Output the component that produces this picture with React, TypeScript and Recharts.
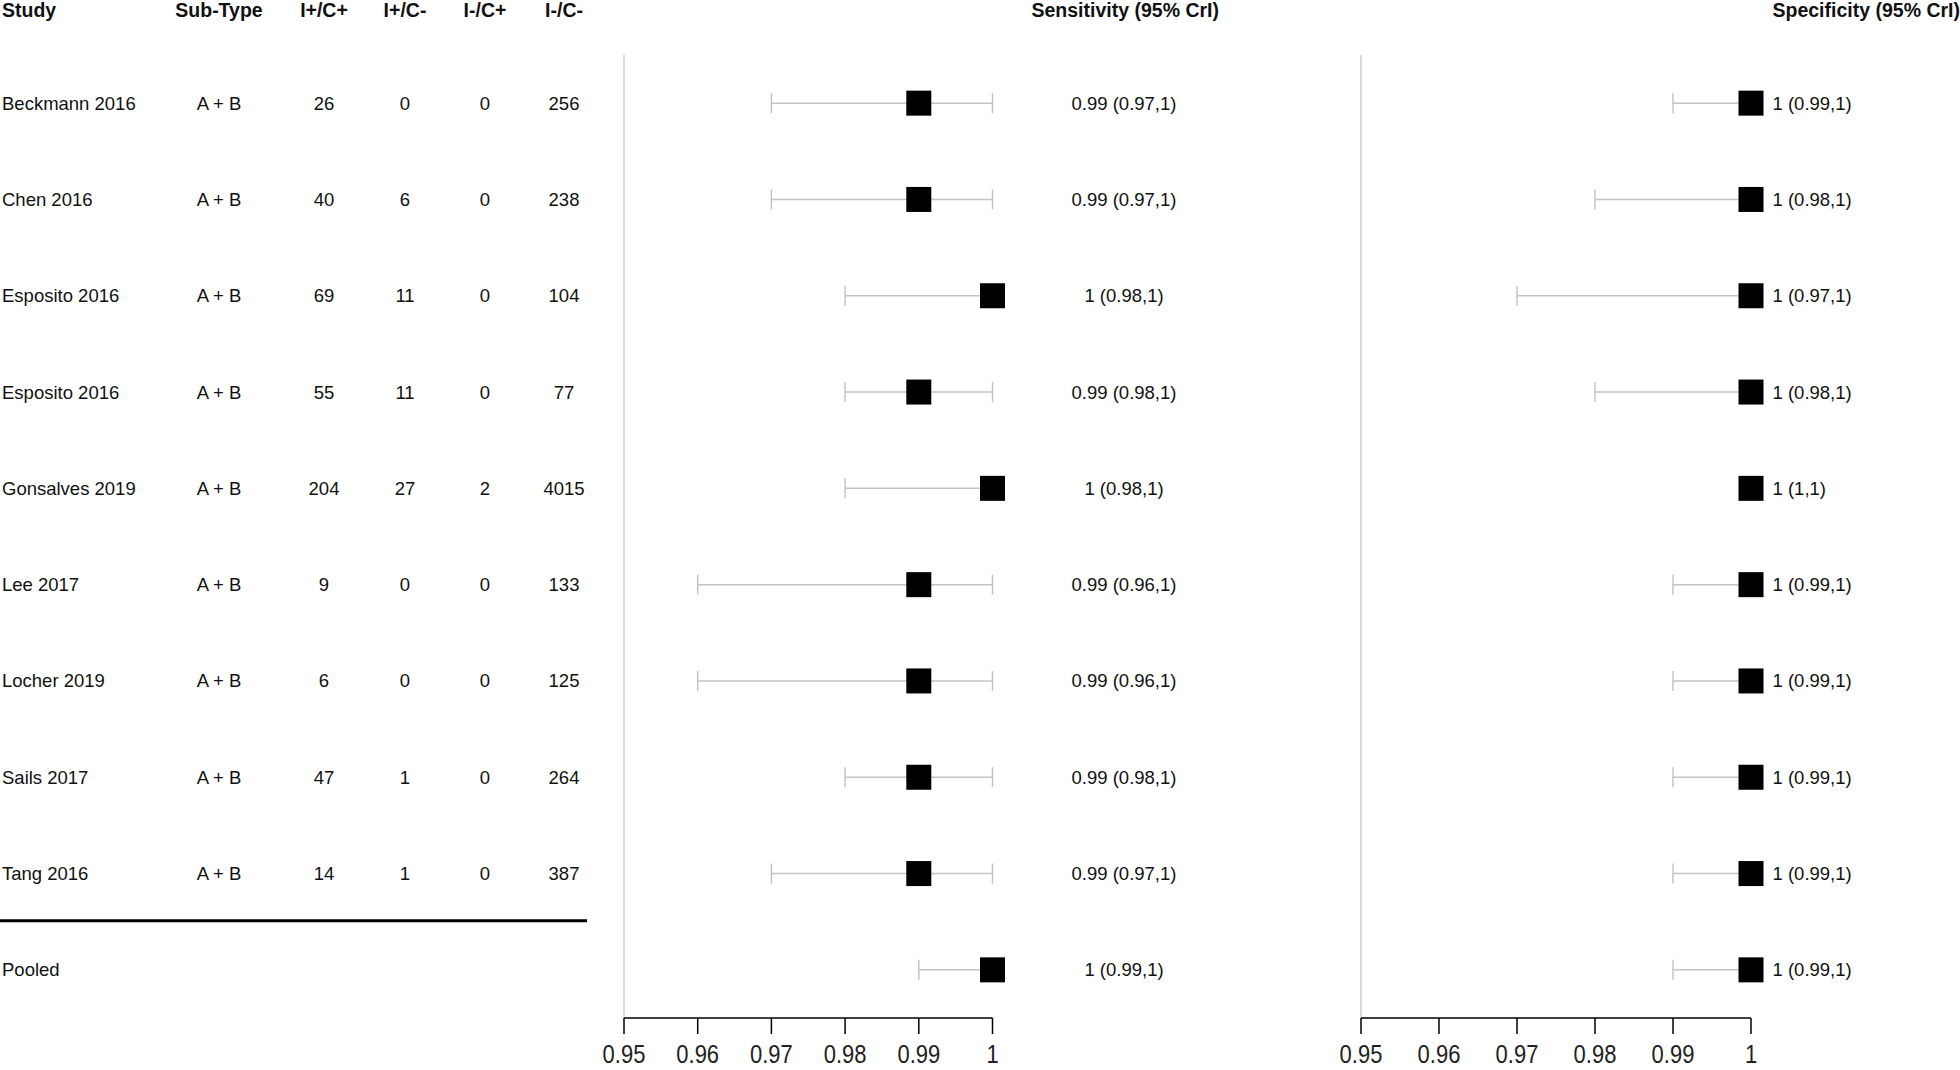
import React from 'react';
import { ScatterChart, Scatter, XAxis, YAxis, ErrorBar, ReferenceLine } from 'recharts';

// ---------- data ----------
const studies = [
  'Beckmann 2016', 'Chen 2016', 'Esposito 2016', 'Esposito 2016', 'Gonsalves 2019',
  'Lee 2017', 'Locher 2019', 'Sails 2017', 'Tang 2016', 'Pooled',
];
const subTypes = ['A + B', 'A + B', 'A + B', 'A + B', 'A + B', 'A + B', 'A + B', 'A + B', 'A + B', ''];
const ipcp = ['26', '40', '69', '55', '204', '9', '6', '47', '14', ''];
const ipcm = ['0', '6', '11', '11', '27', '0', '0', '1', '1', ''];
const imcp = ['0', '0', '0', '0', '2', '0', '0', '0', '0', ''];
const imcm = ['256', '238', '104', '77', '4015', '133', '125', '264', '387', ''];

const sensEst = [0.99, 0.99, 1, 0.99, 1, 0.99, 0.99, 0.99, 0.99, 1];
const sensLow = [0.97, 0.97, 0.98, 0.98, 0.98, 0.96, 0.96, 0.98, 0.97, 0.99];
const sensHigh = [1, 1, 1, 1, 1, 1, 1, 1, 1, 1];

const specEst = [1, 1, 1, 1, 1, 1, 1, 1, 1, 1];
const specLow = [0.99, 0.98, 0.97, 0.98, 1, 0.99, 0.99, 0.99, 0.99, 0.99];
const specHigh = [1, 1, 1, 1, 1, 1, 1, 1, 1, 1];

const headers = ['Study', 'Sub-Type', 'I+/C+', 'I+/C-', 'I-/C+', 'I-/C-'];
const sensTitle = 'Sensitivity (95% CrI)';
const specTitle = 'Specificity (95% CrI)';
const xTicks = [0.95, 0.96, 0.97, 0.98, 0.99, 1];
const rowTicks = studies.map((_, i) => i);

const rows = studies.map((s, i) => ({
  row: i,
  sens: sensEst[i],
  sensErr: [sensEst[i] - sensLow[i], sensHigh[i] - sensEst[i]],
  spec: specEst[i],
  specErr: [specEst[i] - specLow[i], specHigh[i] - specEst[i]],
}));

const fmt = (e: number, l: number, h: number) => `${e} (${l},${h})`;

// ---------- layout ----------
const FONT = '"Liberation Sans", Arial, sans-serif';
const FS = 18.5;
const HFS = 19.5;
const TXT = '#111';
const HEAD_Y = 10;
const colX = [2, 219, 324, 405, 485, 564];
const SENS_TXT_X = 1124;
const SENS_HEAD_END = 1219;
const SPEC_TXT_X = 532.5;
const CHART_H = 1070;
const TOP = 55;
const AXIS_H = 52;
const A_W = 1240;
const B_W = 720;

function LeftTick(props: any) {
  const { y, payload } = props;
  const i = payload.value as number;
  const cells = [subTypes[i], ipcp[i], ipcm[i], imcp[i], imcm[i]];
  return (
    <g fontFamily={FONT} fontSize={FS} fill={TXT}>
      {i === 0 && (
        <g fontWeight="bold" fontSize={HFS}>
          <text x={colX[0]} y={HEAD_Y} dy="0.35em" textAnchor="start">{headers[0]}</text>
          {headers.slice(1).map((h, k) => (
            <text key={k} x={colX[k + 1]} y={HEAD_Y} dy="0.35em" textAnchor="middle">{h}</text>
          ))}
          <text x={SENS_HEAD_END} y={HEAD_Y} dy="0.35em" textAnchor="end">{sensTitle}</text>
        </g>
      )}
      <text x={colX[0]} y={y} dy="0.35em" textAnchor="start">{studies[i]}</text>
      {cells.map((c, k) => (
        <text key={k} x={colX[k + 1]} y={y} dy="0.35em" textAnchor="middle">{c}</text>
      ))}
      <text x={SENS_TXT_X} y={y} dy="0.35em" textAnchor="middle">
        {fmt(sensEst[i], sensLow[i], sensHigh[i])}
      </text>
      {i === studies.length - 1 && (
        <line x1={0} x2={587} y1={y - 49} y2={y - 49} stroke="#000" strokeWidth={3} />
      )}
    </g>
  );
}

function RightTick(props: any) {
  const { y, payload } = props;
  const i = payload.value as number;
  return (
    <g fontFamily={FONT} fontSize={FS} fill={TXT}>
      {i === 0 && (
        <text x={SPEC_TXT_X} y={HEAD_Y} dy="0.35em" textAnchor="start" fontWeight="bold" fontSize={HFS}>
          {specTitle}
        </text>
      )}
      <text x={SPEC_TXT_X} y={y} dy="0.35em" textAnchor="start">
        {fmt(specEst[i], specLow[i], specHigh[i])}
      </text>
    </g>
  );
}

function XTick(props: any) {
  const { x, y, payload } = props;
  return (
    <g transform={`translate(${x},${y}) scale(1,1.18)`}>
      <text x={0} y={0} dy="0.71em" textAnchor="middle" fontSize={22} fill="#222" fontFamily={FONT}>
        {String(payload.value)}
      </text>
    </g>
  );
}

const Square = (p: any) => (
  <rect x={p.cx - 12.5} y={p.cy - 12.5} width={25} height={25} fill="#000" />
);
const Nothing = () => <g />;

function Panel({ width, yWidth, right, xKey, errKey, tick }: any) {
  return (
    <ScatterChart width={width} height={CHART_H} margin={{ top: TOP, right, bottom: 0, left: 0 }}>
      <XAxis
        type="number"
        dataKey={xKey}
        domain={[0.95, 1]}
        ticks={xTicks}
        interval={0}
        height={AXIS_H}
        tickSize={16}
        tickMargin={11}
        axisLine={{ stroke: '#000', strokeWidth: 1.5 }}
        tickLine={{ stroke: '#000', strokeWidth: 1.5 }}
        tick={<XTick />}
      />
      <YAxis
        type="number"
        dataKey="row"
        domain={[-0.5, 9.5]}
        reversed
        ticks={rowTicks}
        interval={0}
        width={yWidth}
        axisLine={false}
        tickLine={false}
        tick={tick}
      />
      <ReferenceLine x={0.95} stroke="#cfcfcf" strokeWidth={1.5} />
      <Scatter data={rows} shape={Nothing} isAnimationActive={false}>
        <ErrorBar dataKey={errKey} direction="x" width={10} stroke="#c4c4c4" strokeWidth={1.5} />
      </Scatter>
      <Scatter data={rows} shape={Square} isAnimationActive={false} />
    </ScatterChart>
  );
}

export default function App() {
  return (
    <div style={{ position: 'absolute', left: 0, top: 0, width: 1960, height: CHART_H, background: '#fff' }}>
      <div style={{ position: 'absolute', left: 0, top: 0 }}>
        <Panel width={A_W} yWidth={624} right={A_W - 992.5} xKey="sens" errKey="sensErr" tick={<LeftTick />} />
      </div>
      <div style={{ position: 'absolute', left: A_W, top: 0 }}>
        <Panel width={B_W} yWidth={121} right={B_W - 511} xKey="spec" errKey="specErr" tick={<RightTick />} />
      </div>
    </div>
  );
}
